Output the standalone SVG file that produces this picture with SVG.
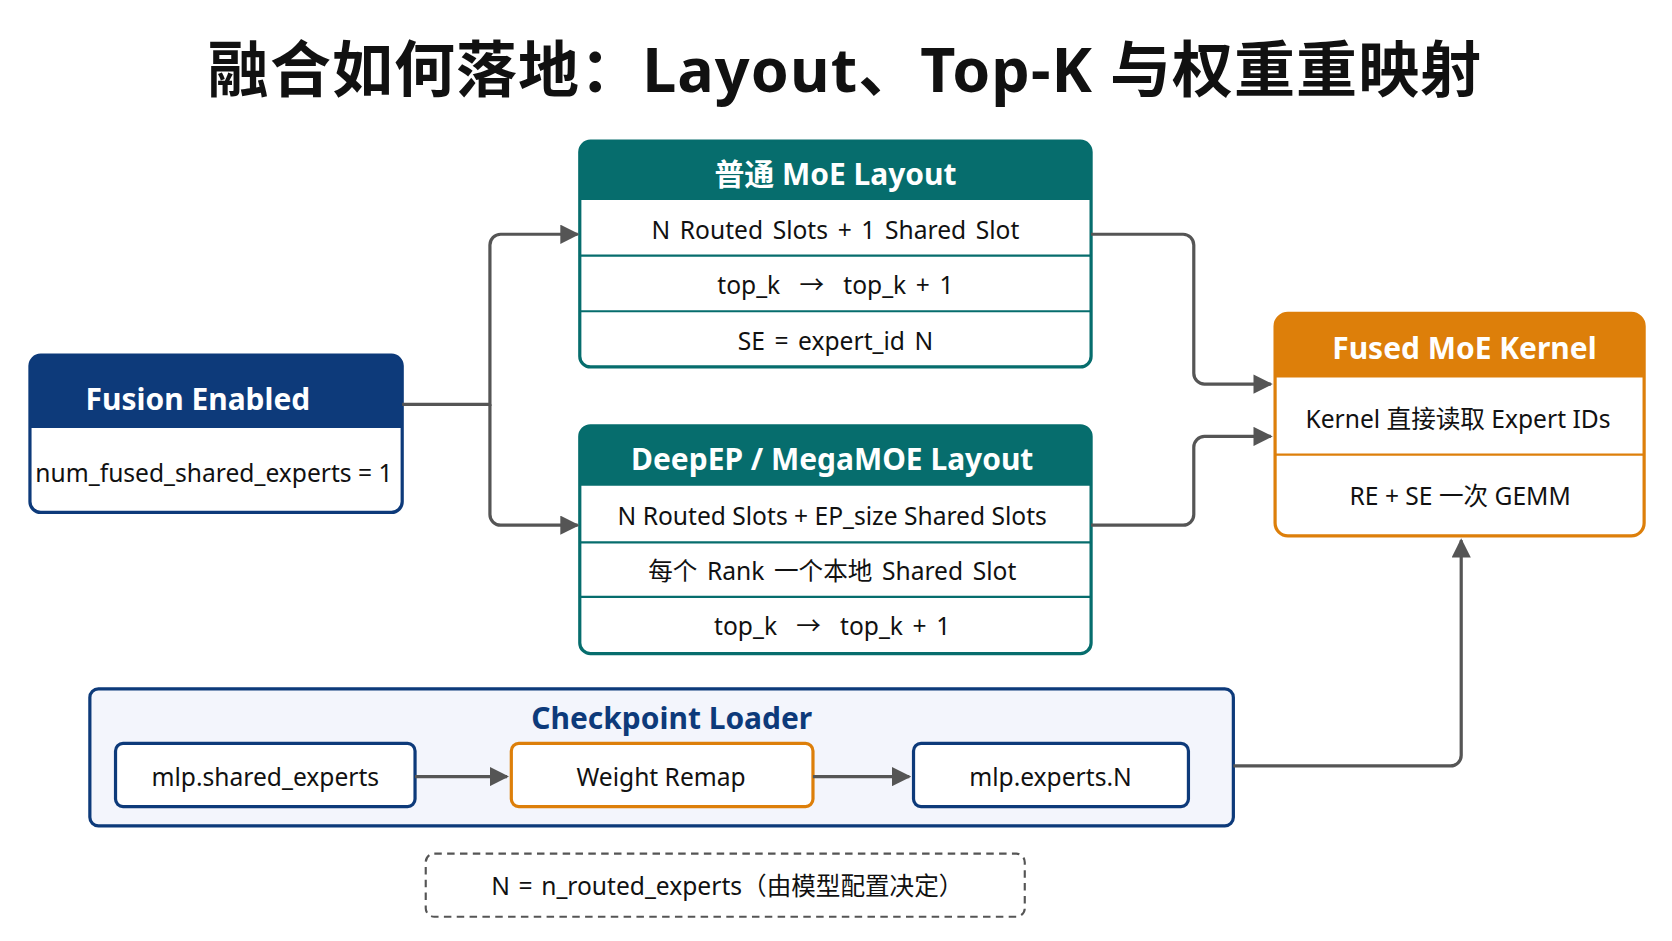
<svg xmlns="http://www.w3.org/2000/svg" width="1672" height="941" viewBox="0 0 1672 941">
<defs>
<marker id="a" viewBox="0 0 10 10" refX="9" refY="5" markerWidth="18" markerHeight="18" markerUnits="userSpaceOnUse" orient="auto"><path d="M0,0L10,5L0,10z" fill="#555"/></marker>
</defs>
<style>
text{font-family:"Noto Sans","Noto Sans CJK SC",sans-serif;text-anchor:middle;dominant-baseline:central}
.h{font-weight:bold;font-size:28px;fill:#fff}
.t{font-size:23px;fill:#111;white-space:pre}
.c{fill:none;stroke:#555;stroke-width:3;marker-end:url(#a)}
</style>
<rect width="1672" height="941" fill="#fff"/>
<g transform="scale(1.0697)">
<text x="790" y="64" font-size="57" font-weight="bold" fill="#111" letter-spacing="1">融合如何落地：Layout、Top-K 与权重重映射</text>
<g id="fusion">
<rect x="28" y="332" width="348" height="147" rx="10" fill="#fff" stroke="#0d3a7a" stroke-width="3"/>
<path d="M28,400V342a10,10 0 0 1 10,-10H366a10,10 0 0 1 10,10V400z" fill="#0d3a7a"/>
<text class="h" x="185" y="373">Fusion Enabled</text>
<text class="t" x="200" y="442">num_fused_shared_experts = 1</text>
</g>
<g id="moe">
<rect x="542" y="132" width="478" height="211" rx="10" fill="#fff" stroke="#066d6d" stroke-width="3"/>
<path d="M542,187V142a10,10 0 0 1 10,-10H1010a10,10 0 0 1 10,10V187z" fill="#066d6d"/>
<path d="M542,239H1020M542,291H1020" stroke="#066d6d" stroke-width="2"/>
<text class="h" x="781" y="162">普通 MoE Layout</text>
<text class="t" x="781" y="215" word-spacing="3">N Routed Slots + 1 Shared Slot</text>
<text class="t" x="781" y="266" word-spacing="3">top_k  →  top_k + 1</text>
<text class="t" x="781" y="318" word-spacing="3">SE = expert_id N</text>
</g>
<g id="deepep">
<rect x="542" y="398" width="478" height="213" rx="10" fill="#fff" stroke="#066d6d" stroke-width="3"/>
<path d="M542,454V408a10,10 0 0 1 10,-10H1010a10,10 0 0 1 10,10V454z" fill="#066d6d"/>
<path d="M542,507H1020M542,558H1020" stroke="#066d6d" stroke-width="2"/>
<text class="h" x="778" y="429">DeepEP / MegaMOE Layout</text>
<text class="t" x="778" y="482">N Routed Slots + EP_size Shared Slots</text>
<text class="t" x="778" y="533" word-spacing="3">每个 Rank 一个本地 Shared Slot</text>
<text class="t" x="778" y="585" word-spacing="3">top_k  →  top_k + 1</text>
</g>
<g id="kernel">
<rect x="1192" y="293" width="345" height="208" rx="12" fill="#fff" stroke="#dd7f0a" stroke-width="3"/>
<path d="M1192,353V305a12,12 0 0 1 12,-12H1525a12,12 0 0 1 12,12V353z" fill="#dd7f0a"/>
<path d="M1192,425H1537" stroke="#dd7f0a" stroke-width="2"/>
<text class="h" x="1369" y="325">Fused MoE Kernel</text>
<text class="t" x="1363" y="391">Kernel 直接读取 Expert IDs</text>
<text class="t" x="1365" y="463">RE + SE 一次 GEMM</text>
</g>
<g id="loader">
<rect x="84" y="644" width="1069" height="128" rx="8" fill="#f3f5fc" stroke="#0d3a7a" stroke-width="3"/>
<text x="628" y="671" font-size="28" font-weight="bold" fill="#0d3a7a">Checkpoint Loader</text>
<rect x="108" y="695" width="280" height="59" rx="7" fill="#fff" stroke="#0d3a7a" stroke-width="3"/>
<text class="t" x="248" y="726">mlp.shared_experts</text>
<rect x="478" y="695" width="282" height="59" rx="7" fill="#fff" stroke="#dd7f0a" stroke-width="3"/>
<text class="t" x="618" y="726">Weight Remap</text>
<rect x="854" y="695" width="257" height="59" rx="7" fill="#fff" stroke="#0d3a7a" stroke-width="3"/>
<text class="t" x="982" y="726">mlp.experts.N</text>
</g>
<g id="note">
<rect x="398" y="798" width="560" height="59" rx="8" fill="#fff" stroke="#555" stroke-width="2" stroke-dasharray="7,5"/>
<text class="t" x="680" y="828" word-spacing="2">N = n_routed_experts（由模型配置决定）</text>
</g>
<g id="connectors">
<path class="c" d="M376,378H458V229a10,10 0 0 1 10,-10H540"/>
<path class="c" d="M458,378V481a10,10 0 0 0 10,10H540"/>
<path class="c" d="M1020,219H1106a10,10 0 0 1 10,10V349a10,10 0 0 0 10,10H1188"/>
<path class="c" d="M1020,491H1106a10,10 0 0 0 10,-10V418a10,10 0 0 1 10,-10H1188"/>
<path class="c" d="M1153,716H1356a10,10 0 0 0 10,-10V505"/>
<path class="c" d="M388,726H474"/>
<path class="c" d="M760,726H850"/>
</g>
</g>
</svg>
